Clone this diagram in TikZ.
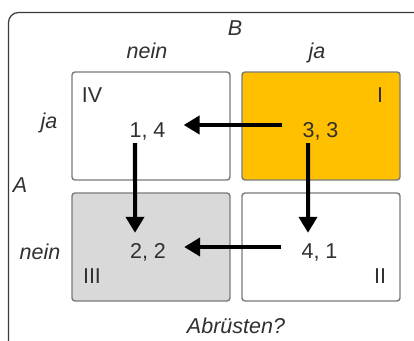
\documentclass[tikz,border=0pt]{standalone}
\usepackage{fontspec}
\setmainfont{Liberation Sans}
\usetikzlibrary{arrows.meta}
\definecolor{txt}{HTML}{303030}
\definecolor{orangeA}{HTML}{FFC000}
\definecolor{grayA}{HTML}{D9D9D9}
\definecolor{boxline}{HTML}{7A7A7A}
\definecolor{frameline}{HTML}{3A3A3A}
\begin{document}
\begin{tikzpicture}[x=1bp,y=-1bp,
  every node/.style={text=txt,font=\fontsize{21.5bp}{26bp}\selectfont},
  lbl/.style={anchor=base,inner sep=0pt},
  ilbl/.style={lbl,font=\fontsize{21.5bp}{26bp}\selectfont\itshape},
  val/.style={anchor=base,inner sep=0pt,text height=15bp,text depth=3bp},
  cell/.style={draw=boxline,line width=1.4bp,rounded corners=3bp},
  arr/.style={line width=4bp,-{Triangle[length=16bp,width=18bp]}}]
\useasboundingbox (0,0) rectangle (414,341);
\clip (0,0) rectangle (414,341);
% outer frame
\draw[frameline,line width=1.2bp,rounded corners=10bp] (8.5,12.5) rectangle (430,355);
% cells
\draw[cell,fill=white] (72,72) rectangle (230,180);
\draw[cell,fill=orangeA] (242,72) rectangle (400,180);
\draw[cell,fill=grayA] (72,193) rectangle (230,301);
\draw[cell,fill=white] (242,193) rectangle (400,301);
% header labels
\node[ilbl] (B) at (235,35) {B};
\node[ilbl] (Bnein) at (147,58) {nein};
\node[ilbl] (Bja) at (317,58) {ja};
\node[ilbl] (A) at (20,192) {A};
\node[ilbl] (Aja) at (49,128) {ja};
\node[ilbl] (Anein) at (40,259) {nein};
\node[ilbl] (q) at (236,333) {Abrüsten?};
% quadrant labels
\node[lbl] (qIV) at (92,102) {IV};
\node[lbl] (qI) at (380,102) {I};
\node[lbl] (qIII) at (92,283) {III};
\node[lbl] (qII) at (380,283) {II};
% payoffs
\node[val] (v14) at (147.5,137) {1, 4};
\node[val] (v33) at (320.5,137) {3, 3};
\node[val] (v22) at (148,258) {2, 2};
\node[val] (v41) at (319.5,258) {4, 1};
% arrows
\draw[arr] ([xshift=-20bp,yshift=6bp]v33.west) -- ([xshift=18bp,yshift=6bp]v14.east);
\draw[arr] ([xshift=-20bp,yshift=5bp]v41.west) -- ([xshift=18bp,yshift=5bp]v22.east);
\draw[arr] ([xshift=-12.5bp,yshift=-3bp]v14.south) -- ([xshift=-13bp,yshift=10bp]v22.north);
\draw[arr] ([xshift=-12.5bp,yshift=-3bp]v33.south) -- ([xshift=-11.5bp,yshift=10bp]v41.north);
\end{tikzpicture}
\end{document}
